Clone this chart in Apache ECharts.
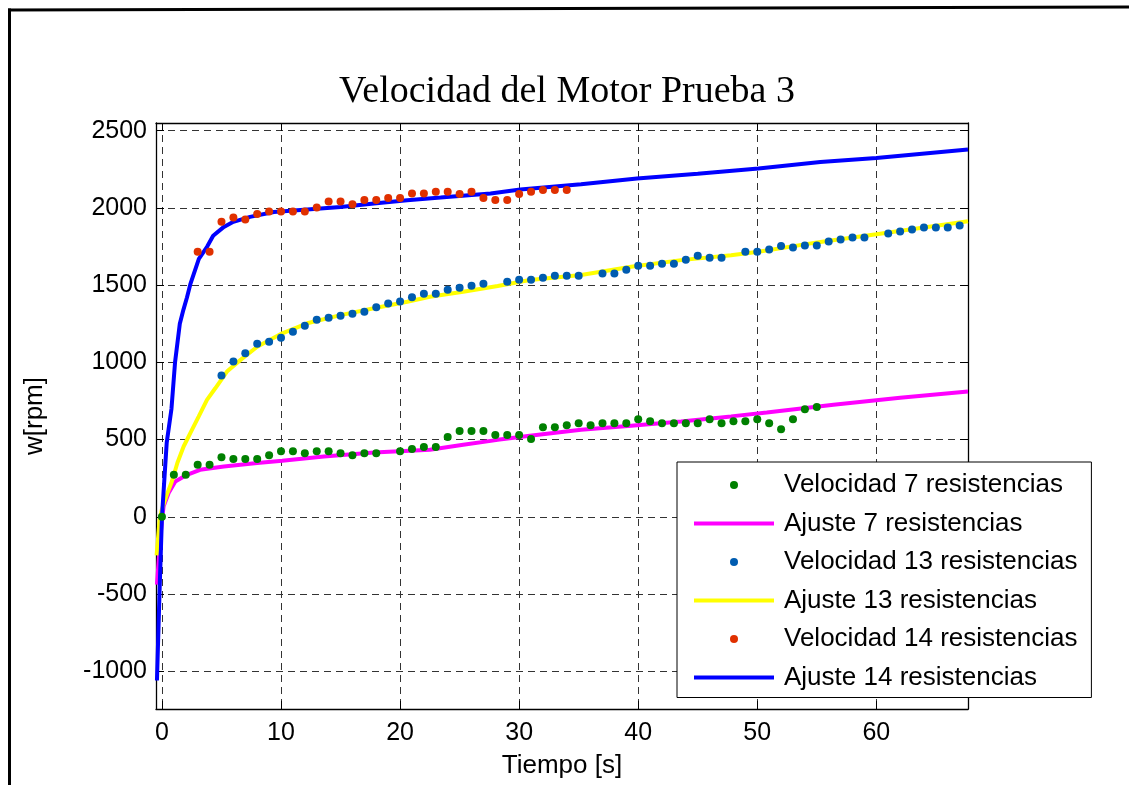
<!DOCTYPE html>
<html>
<head>
<meta charset="utf-8">
<script src="https://cdn.jsdelivr.net/npm/echarts@6/dist/echarts.min.js"></script>
<style>
  html, body { margin: 0; padding: 0; background: #ffffff; }
  #chart { width: 1129px; height: 785px; }
</style>
</head>
<body>
<div id="chart"></div>
<script>
// Measured speed samples (time in s, speed in rpm)
const t7 = [0,1,2,3,4,5,6,7,8,9,10,11,12,13,14,15,16,17,18,20,21,22,23,24,25,26,27,28,29,30,31,32,33,34,35,36,37,38,39,40,41,42,43,44,45,46,47,48,49,50,51,52,53,54,55];
const vel7 = [0,272,272,337,337,386,374,374,374,399,425,425,412,425,425,412,399,412,412,425,438,451,451,516,555,555,555,529,529,529,503,580,580,593,606,593,606,606,606,632,619,606,606,606,606,632,606,619,619,632,606,567,632,697,710];

const t13 = [5,6,7,8,9,10,11,12,13,14,15,16,17,18,19,20,21,22,23,24,25,26,27,29,30,31,32,33,34,35,37,38,39,40,41,42,43,44,45,46,47,49,50,51,52,53,54,55,56,57,58,59,61,62,63,64,65,66,67];
const vel13 = [914,1005,1059,1121,1134,1160,1198,1237,1276,1289,1302,1315,1328,1357,1381,1394,1421,1444,1444,1470,1483,1496,1509,1522,1535,1535,1548,1561,1561,1561,1576,1576,1599,1625,1625,1638,1638,1664,1690,1677,1677,1716,1716,1731,1754,1744,1757,1757,1783,1796,1809,1809,1835,1847,1860,1873,1873,1873,1886];

const t14 = [3,4,5,6,7,8,9,10,11,12,13,14,15,16,17,18,19,20,21,22,23,24,25,26,27,28,29,30,31,32,33,34];
const vel14 = [1716,1716,1910,1938,1925,1961,1977,1977,1977,1977,2003,2041,2041,2024,2052,2052,2065,2065,2093,2093,2104,2104,2091,2104,2065,2052,2052,2091,2104,2116,2116,2116];

// Fitted curves
const fitT7 = [-0.42,-0.2,0,0.14,0.56,1.12,2.1,3.2,5.2,8,10.1,13.6,17.8,22.5,25.3,28.2,30.9,35.2,39.4,43.6,47.8,50.8,56.4,62,67.7];
const fit7 = [-440,-200,-20,67,154,229,272,304,326,348,363,390,416,434,466,498,524,563,589,617,650,675,725,770,811];

const fitT13 = [-0.45,-0.2,0,0.4,0.84,1.3,1.82,2.38,3.08,3.78,4.48,5.46,6.6,8,10.1,12.2,15,17.8,20.6,22.5,25.3,28.2,30.9,35.2,39.4,43.6,47.8,50.1,55.3,60,67.7];
const fit13 = [-250,-20,50,140,230,350,455,542,649,757,832,940,1016,1101,1188,1253,1306,1350,1392,1425,1457,1494,1533,1565,1619,1662,1694,1716,1780,1830,1914];

const fitT14 = [-0.42,-0.2,0,0.4,0.8,1.1,1.5,1.8,2.1,2.4,3.1,3.8,4.3,5.2,6,7.4,9.4,12.2,15,17.8,20.6,23.4,27.6,30.1,35.2,39.9,45,50.1,55.3,60,67.7];
const fit14 = [-1060,-480,0,480,700,1000,1250,1340,1420,1510,1670,1750,1820,1877,1910,1942,1974,1990,2006,2028,2050,2067,2093,2119,2153,2190,2222,2255,2297,2323,2378];

// Axis ticks
const xTicks = [0,10,20,30,40,50,60];
const yTicks = [-1000,-500,0,500,1000,1500,2000,2500];

const names = [
  'Velocidad 7 resistencias', 'Ajuste 7 resistencias',
  'Velocidad 13 resistencias', 'Ajuste 13 resistencias',
  'Velocidad 14 resistencias', 'Ajuste 14 resistencias'
];

const pairs = (xs, ys) => xs.map((x, i) => [x, ys[i]]);

const SANS = 'Liberation Sans, Arial, sans-serif';
const X_MIN = -0.5, X_MAX = 67.7, Y_MIN = -1245, Y_MAX = 2550;

const gridLine = { show: true, lineStyle: { color: '#333333', width: 1, type: [7, 5] } };
const axisLine = { show: true, onZero: false, lineStyle: { color: '#000', width: 1.3 } };
const tick = { show: true, inside: true, length: 8, lineStyle: { color: '#000' } };

// Legend glyphs: a dot for samples, a 4px bar (centred in an 80x8 box) for fits
const DOT_ICON = 'circle';
const BAR_ICON = 'path://M0,0L0.001,0ZM0,2L80,2L80,6L0,6ZM0,8L0.001,8Z';

const chart = echarts.init(document.getElementById('chart'), null, { renderer: 'canvas' });

chart.setOption({
  animation: false,
  backgroundColor: '#ffffff',
  title: {
    text: 'Velocidad del Motor Prueba 3',
    left: 562, top: 68, textAlign: 'center',
    textStyle: { fontFamily: 'Liberation Serif, Times New Roman, serif', fontWeight: 'normal', fontSize: 38, color: '#000' }
  },
  grid: { left: 156, right: 161, top: 123, bottom: 76, containLabel: false },
  legend: {
    orient: 'vertical',
    left: 677, top: 462,
    padding: [8, 14, 5, 17],
    itemWidth: 80, itemHeight: 8, itemGap: 8.5,
    backgroundColor: '#ffffff', borderColor: '#000', borderWidth: 1,
    textStyle: { fontFamily: SANS, fontSize: 26, color: '#000', lineHeight: 30, padding: [0, 0, 0, 5] },
    data: names.map((n, i) => ({ name: n, icon: i % 2 === 0 ? DOT_ICON : BAR_ICON }))
  },
  xAxis: [
    {
      type: 'value', min: X_MIN, max: X_MAX, position: 'bottom',
      name: 'Tiempo [s]', nameLocation: 'middle', nameGap: 44,
      nameTextStyle: { fontFamily: SANS, fontSize: 26, color: '#000' },
      axisLine: axisLine,
      axisTick: Object.assign({ customValues: xTicks }, tick),
      axisLabel: { customValues: xTicks, fontFamily: SANS, fontSize: 25, color: '#000', margin: 12 },
      splitLine: gridLine
    },
    {
      type: 'value', min: X_MIN, max: X_MAX, position: 'top',
      axisLine: axisLine,
      axisTick: Object.assign({ customValues: xTicks }, tick),
      axisLabel: { show: false },
      splitLine: { show: false }
    }
  ],
  yAxis: [
    {
      type: 'value', min: Y_MIN, max: Y_MAX, position: 'left',
      name: 'w[rpm]', nameLocation: 'middle', nameGap: 108, nameRotate: 90,
      nameTextStyle: { fontFamily: SANS, fontSize: 26, color: '#000' },
      axisLine: axisLine,
      axisTick: Object.assign({ customValues: yTicks }, tick),
      axisLabel: { customValues: yTicks, formatter: v => String(v), fontFamily: SANS, fontSize: 25, color: '#000', margin: 9 },
      splitLine: gridLine
    },
    {
      type: 'value', min: Y_MIN, max: Y_MAX, position: 'right',
      axisLine: axisLine,
      axisTick: Object.assign({ customValues: yTicks }, tick),
      axisLabel: { show: false },
      splitLine: { show: false }
    }
  ],
  graphic: [
    { type: 'line', silent: true, shape: { x1: 8, y1: 10, x2: 1129, y2: 7 }, style: { stroke: '#000', lineWidth: 3 } },
    { type: 'line', silent: true, shape: { x1: 9.5, y1: 8.5, x2: 9.5, y2: 785 }, style: { stroke: '#000', lineWidth: 3 } }
  ],
  series: [
    { name: names[0], type: 'scatter', data: pairs(t7, vel7), symbol: 'circle', symbolSize: 8, itemStyle: { color: '#008000', opacity: 1 }, z: 5 },
    { name: names[1], type: 'line', data: pairs(fitT7, fit7), symbol: 'none', lineStyle: { color: '#ff00ff', width: 4 }, itemStyle: { color: '#ff00ff' }, z: 2 },
    { name: names[2], type: 'scatter', data: pairs(t13, vel13), symbol: 'circle', symbolSize: 8, itemStyle: { color: '#005cb0', opacity: 1 }, z: 5 },
    { name: names[3], type: 'line', data: pairs(fitT13, fit13), symbol: 'none', lineStyle: { color: '#ffff00', width: 4 }, itemStyle: { color: '#ffff00' }, z: 2 },
    { name: names[4], type: 'scatter', data: pairs(t14, vel14), symbol: 'circle', symbolSize: 8, itemStyle: { color: '#e03000', opacity: 1 }, z: 5 },
    { name: names[5], type: 'line', data: pairs(fitT14, fit14), symbol: 'none', lineStyle: { color: '#0000ff', width: 4 }, itemStyle: { color: '#0000ff' }, z: 2 }
  ]
});
</script>
</body>
</html>
